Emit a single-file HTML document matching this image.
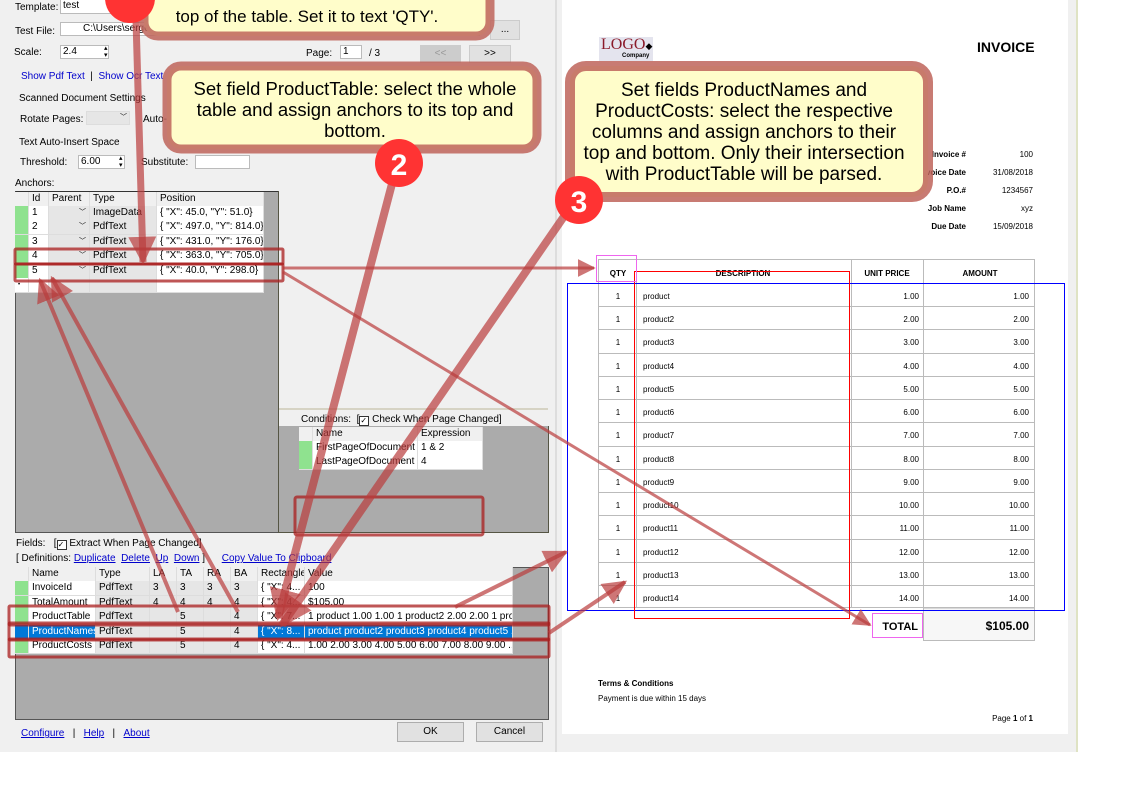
<!DOCTYPE html>
<html><head><meta charset="utf-8">
<style>
*{margin:0;padding:0;box-sizing:border-box}
body{width:1123px;height:794px;background:#fff;position:relative;overflow:hidden;font-family:"Liberation Sans",sans-serif;font-size:10px;color:#000}
.a{position:absolute;white-space:nowrap}
.lnk{color:#00c;}
.u{text-decoration:underline}
.in{position:absolute;background:#fff;border:1px solid #bbb}
.g{position:absolute;background:#ababab}
.c{position:absolute;height:15px;line-height:14px;border-right:1px solid #ddd;border-bottom:1px solid #ddd;padding-left:3px;overflow:hidden;white-space:nowrap;font-size:10px}
.w{background:#fff}.gr{background:#e6e6e6}.gn{background:#8fe28f}.h{background:#f0f0f0}.sel{background:#0078d7;color:#fff}
.inv{font-size:8px;position:absolute;white-space:nowrap}
</style></head><body>
<div class="a" style="left:0;top:0;width:1078px;height:752px;background:#f0f0f0"></div>
<div class="a" style="left:555px;top:0;width:2px;height:752px;background:#ddd"></div>
<div class="a" style="left:1076px;top:0;width:2px;height:752px;background:#dfe3c4"></div>
<div class="a" style="left:562px;top:0;width:506px;height:734px;background:#fff"></div>

<div class="a" style="left:15px;top:2px">Template:</div>
<div class="in" style="left:60px;top:0;width:100px;height:14px;border-top:none"><span style="padding-left:2px">test</span></div>
<div class="a" style="left:15px;top:26px">Test File:</div>
<div class="in" style="left:60px;top:22px;width:420px;height:14px;padding-left:22px;line-height:12px">C:\Users\serge\</div>
<div class="a" style="left:470px;top:24px">.df</div>
<div class="a" style="left:490px;top:20px;width:30px;height:20px;border:1px solid #ccc;background:#e1e1e1;text-align:center;line-height:18px">...</div>
<div class="a" style="left:14px;top:47px">Scale:</div>
<div class="in" style="left:60px;top:45px;width:49px;height:14px;line-height:12px;padding-left:2px">2.4</div>
<div class="a" style="left:104px;top:45px;font-size:7px;line-height:7px">▴<br>▾</div>
<div class="a" style="left:306px;top:48px">Page:</div>
<div class="in" style="left:340px;top:45px;width:22px;height:14px;line-height:12px;padding-left:2px">1</div>
<div class="a" style="left:369px;top:48px">/ 3</div>
<div class="a" style="left:420px;top:45px;width:41px;height:18px;background:#ccc;border:1px solid #ccc;color:#999;text-align:center;line-height:16px">&lt;&lt;</div>
<div class="a" style="left:469px;top:45px;width:42px;height:18px;background:#e1e1e1;border:1px solid #ccc;text-align:center;line-height:16px">&gt;&gt;</div>
<div class="a lnk" style="left:21px;top:71px">Show Pdf Text &nbsp;<span style="color:#000">|</span>&nbsp; Show Ocr Text</div>
<div class="a" style="left:19px;top:93px">Scanned Document Settings</div>
<div class="a" style="left:20px;top:114px">Rotate Pages:</div>
<div class="a" style="left:86px;top:111px;width:44px;height:14px;background:#e6e6e6;border:1px solid #ddd;font-size:7px;text-align:right;padding-right:2px">﹀</div>
<div class="a" style="left:143px;top:114px">Auto-I</div>
<div class="a" style="left:19px;top:137px">Text Auto-Insert Space</div>
<div class="a" style="left:20px;top:157px">Threshold:</div>
<div class="in" style="left:78px;top:155px;width:47px;height:14px;line-height:12px;padding-left:2px">6.00</div>
<div class="a" style="left:119px;top:155px;font-size:7px;line-height:7px">▴<br>▾</div>
<div class="a" style="left:141px;top:157px">Substitute:</div>
<div class="in" style="left:195px;top:155px;width:55px;height:14px"></div>
<div class="a" style="left:15px;top:178px">Anchors:</div>

<div class="g" style="left:15px;top:191px;width:264px;height:342px;border:1px solid #555;border-top:1px solid #333"></div>
<div class="a" style="left:278px;top:191px;width:1px;height:342px;background:#554"></div>
<div class="c h" style="left:15px;top:192px;width:14px"></div>
<div class="c h" style="left:29px;top:192px;width:20px">Id</div>
<div class="c h" style="left:49px;top:192px;width:41px">Parent</div>
<div class="c h" style="left:90px;top:192px;width:67px">Type</div>
<div class="c h" style="left:157px;top:192px;width:107px">Position</div>
<div class="c gn" style="left:15px;top:206px;width:14px"></div><div class="c w" style="left:29px;top:206px;width:20px">1</div><div class="c gr" style="left:49px;top:206px;width:41px;text-align:right;padding-right:3px;font-size:7px">﹀</div><div class="c gr" style="left:90px;top:206px;width:67px">ImageData</div><div class="c w" style="left:157px;top:206px;width:107px">{ "X": 45.0,  "Y": 51.0}</div>
<div class="c gn" style="left:15px;top:220px;width:14px"></div><div class="c w" style="left:29px;top:220px;width:20px">2</div><div class="c gr" style="left:49px;top:220px;width:41px;text-align:right;padding-right:3px;font-size:7px">﹀</div><div class="c gr" style="left:90px;top:220px;width:67px">PdfText</div><div class="c w" style="left:157px;top:220px;width:107px">{ "X": 497.0,  "Y": 814.0}</div>
<div class="c gn" style="left:15px;top:235px;width:14px"></div><div class="c w" style="left:29px;top:235px;width:20px">3</div><div class="c gr" style="left:49px;top:235px;width:41px;text-align:right;padding-right:3px;font-size:7px">﹀</div><div class="c gr" style="left:90px;top:235px;width:67px">PdfText</div><div class="c w" style="left:157px;top:235px;width:107px">{ "X": 431.0,  "Y": 176.0}</div>
<div class="c gn" style="left:15px;top:249px;width:14px"></div><div class="c w" style="left:29px;top:249px;width:20px">4</div><div class="c gr" style="left:49px;top:249px;width:41px;text-align:right;padding-right:3px;font-size:7px">﹀</div><div class="c gr" style="left:90px;top:249px;width:67px">PdfText</div><div class="c w" style="left:157px;top:249px;width:107px">{ "X": 363.0,  "Y": 705.0}</div>
<div class="c gn" style="left:15px;top:264px;width:14px"></div><div class="c w" style="left:29px;top:264px;width:20px">5</div><div class="c gr" style="left:49px;top:264px;width:41px;text-align:right;padding-right:3px;font-size:7px">﹀</div><div class="c gr" style="left:90px;top:264px;width:67px">PdfText</div><div class="c w" style="left:157px;top:264px;width:107px">{ "X": 40.0,  "Y": 298.0}</div>
<div class="c w" style="left:15px;top:278px;width:14px;font-size:6px">•</div><div class="c w" style="left:29px;top:278px;width:20px"></div><div class="c gr" style="left:49px;top:278px;width:41px"></div><div class="c gr" style="left:90px;top:278px;width:67px"></div><div class="c w" style="left:157px;top:278px;width:107px"></div>

<div class="a" style="left:279px;top:408px;width:269px;height:2px;background:#d6d3c4"></div>
<div class="a" style="left:301px;top:414px">Conditions: &nbsp;[<span style="display:inline-block;width:10px;height:10px;border:1px solid #333;background:#fff;font-size:8px;line-height:8px;vertical-align:-1px">✓</span> Check When Page Changed]</div>
<div class="g" style="left:279px;top:426px;width:270px;height:107px;border-right:1px solid #554;border-bottom:1px solid #554"></div>
<div class="c h" style="left:299px;top:427px;width:14px"></div><div class="c h" style="left:313px;top:427px;width:105px">Name</div><div class="c h" style="left:418px;top:427px;width:65px">Expression</div>
<div class="c gn" style="left:299px;top:441px;width:14px"></div><div class="c w" style="left:313px;top:441px;width:105px">FirstPageOfDocument</div><div class="c w" style="left:418px;top:441px;width:65px">1 &amp; 2</div>
<div class="c gn" style="left:299px;top:455px;width:14px"></div><div class="c w" style="left:313px;top:455px;width:105px">LastPageOfDocument</div><div class="c w" style="left:418px;top:455px;width:65px">4</div>

<div class="a" style="left:16px;top:538px">Fields: &nbsp;&nbsp;[<span style="display:inline-block;width:10px;height:10px;border:1px solid #333;background:#fff;font-size:8px;line-height:8px;vertical-align:-1px">✓</span> Extract When Page Changed]</div>
<div class="a" style="left:16px;top:553px">[ Definitions: <span class="lnk u">Duplicate</span>&nbsp; <span class="lnk u">Delete</span>&nbsp; <span class="lnk u">Up</span>&nbsp; <span class="lnk u">Down</span> ] &nbsp;&nbsp;&nbsp;&nbsp; <span class="lnk u">Copy Value To Clipboard</span></div>
<div class="g" style="left:15px;top:567px;width:534px;height:153px;border:1px solid #555"></div>
<div class="c h" style="left:15px;top:567px;width:14px"></div><div class="c h" style="left:29px;top:567px;width:67px">Name</div><div class="c h" style="left:96px;top:567px;width:54px">Type</div><div class="c h" style="left:150px;top:567px;width:27px">LA</div><div class="c h" style="left:177px;top:567px;width:27px">TA</div><div class="c h" style="left:204px;top:567px;width:27px">RA</div><div class="c h" style="left:231px;top:567px;width:27px">BA</div><div class="c h" style="left:258px;top:567px;width:47px">Rectangle</div><div class="c h" style="left:305px;top:567px;width:208px">Value</div>

<div class="c gn" style="left:15px;top:581px;width:14px"></div><div class="c w" style="left:29px;top:581px;width:67px">InvoiceId</div><div class="c gr" style="left:96px;top:581px;width:54px">PdfText</div><div class="c gr" style="left:150px;top:581px;width:27px">3</div><div class="c gr" style="left:177px;top:581px;width:27px">3</div><div class="c gr" style="left:204px;top:581px;width:27px">3</div><div class="c gr" style="left:231px;top:581px;width:27px">3</div><div class="c w" style="left:258px;top:581px;width:47px">{ "X": 4...</div><div class="c w" style="left:305px;top:581px;width:208px">100</div>
<div class="c gn" style="left:15px;top:596px;width:14px"></div><div class="c w" style="left:29px;top:596px;width:67px">TotalAmount</div><div class="c gr" style="left:96px;top:596px;width:54px">PdfText</div><div class="c gr" style="left:150px;top:596px;width:27px">4</div><div class="c gr" style="left:177px;top:596px;width:27px">4</div><div class="c gr" style="left:204px;top:596px;width:27px">4</div><div class="c gr" style="left:231px;top:596px;width:27px">4</div><div class="c w" style="left:258px;top:596px;width:47px">{ "X": 4...</div><div class="c w" style="left:305px;top:596px;width:208px">$105.00</div>
<div class="c gn" style="left:15px;top:610px;width:14px"></div><div class="c w" style="left:29px;top:610px;width:67px">ProductTable</div><div class="c gr" style="left:96px;top:610px;width:54px">PdfText</div><div class="c gr" style="left:150px;top:610px;width:27px"></div><div class="c gr" style="left:177px;top:610px;width:27px">5</div><div class="c gr" style="left:204px;top:610px;width:27px"></div><div class="c gr" style="left:231px;top:610px;width:27px">4</div><div class="c w" style="left:258px;top:610px;width:47px">{ "X": 7...</div><div class="c w" style="left:305px;top:610px;width:208px">1 product 1.00 1.00 1 product2 2.00 2.00 1 pro...</div>
<div class="c sel" style="left:15px;top:625px;width:14px"></div><div class="c sel" style="left:29px;top:625px;width:67px">ProductNames</div><div class="c gr" style="left:96px;top:625px;width:54px">PdfText</div><div class="c gr" style="left:150px;top:625px;width:27px"></div><div class="c gr" style="left:177px;top:625px;width:27px">5</div><div class="c gr" style="left:204px;top:625px;width:27px"></div><div class="c gr" style="left:231px;top:625px;width:27px">4</div><div class="c sel" style="left:258px;top:625px;width:47px">{ "X": 8...</div><div class="c sel" style="left:305px;top:625px;width:208px">product product2 product3 product4 product5 ...</div>
<div class="c gn" style="left:15px;top:639px;width:14px"></div><div class="c w" style="left:29px;top:639px;width:67px">ProductCosts</div><div class="c gr" style="left:96px;top:639px;width:54px">PdfText</div><div class="c gr" style="left:150px;top:639px;width:27px"></div><div class="c gr" style="left:177px;top:639px;width:27px">5</div><div class="c gr" style="left:204px;top:639px;width:27px"></div><div class="c gr" style="left:231px;top:639px;width:27px">4</div><div class="c w" style="left:258px;top:639px;width:47px">{ "X": 4...</div><div class="c w" style="left:305px;top:639px;width:208px">1.00 2.00 3.00 4.00 5.00 6.00 7.00 8.00 9.00 ...</div>

<div class="a" style="left:21px;top:728px"><span class="lnk u">Configure</span> &nbsp;&nbsp;| &nbsp;&nbsp;<span class="lnk u">Help</span> &nbsp;&nbsp;| &nbsp;&nbsp;<span class="lnk u">About</span></div>
<div class="a" style="left:397px;top:722px;width:67px;height:20px;background:#e1e1e1;border:1px solid #adadad;text-align:center;line-height:18px">OK</div>
<div class="a" style="left:476px;top:722px;width:67px;height:20px;background:#e1e1e1;border:1px solid #adadad;text-align:center;line-height:18px">Cancel</div>

<div class="a" style="left:599px;top:37px;width:54px;height:24px;background:#e4e4ee"></div>
<div class="a" style="left:601px;top:36px;font-family:'Liberation Serif',serif;font-size:16px;color:#8a1a2a">LOGO<span style="font-size:9px;color:#000">◆</span></div>
<div class="a" style="left:622px;top:53px;font-size:6px;font-weight:bold">Company</div>
<div class="a" style="left:977px;top:39px;font-size:14px;font-weight:bold;font-family:'Liberation Sans',sans-serif">INVOICE</div>
<div class="inv" style="left:900px;top:150px;width:66px;text-align:right;font-weight:bold">Invoice #</div><div class="inv" style="left:980px;top:150px;width:53px;text-align:right">100</div>
<div class="inv" style="left:900px;top:168px;width:66px;text-align:right;font-weight:bold">Invoice Date</div><div class="inv" style="left:980px;top:168px;width:53px;text-align:right">31/08/2018</div>
<div class="inv" style="left:900px;top:186px;width:66px;text-align:right;font-weight:bold">P.O.#</div><div class="inv" style="left:980px;top:186px;width:53px;text-align:right">1234567</div>
<div class="inv" style="left:900px;top:204px;width:66px;text-align:right;font-weight:bold">Job Name</div><div class="inv" style="left:980px;top:204px;width:53px;text-align:right">xyz</div>
<div class="inv" style="left:900px;top:222px;width:66px;text-align:right;font-weight:bold">Due Date</div><div class="inv" style="left:980px;top:222px;width:53px;text-align:right">15/09/2018</div>

<svg class="a" style="left:0;top:0" width="1123" height="794">
<g stroke="#bbb" stroke-width="1" fill="none">
<rect x="598.5" y="259.5" width="436" height="348" />
<line x1="636.5" y1="259" x2="636.5" y2="608"/>
<line x1="851.5" y1="259" x2="851.5" y2="608"/>
<line x1="923.5" y1="259" x2="923.5" y2="641"/>
<line x1="598" y1="283.5" x2="1035" y2="283.5"/>
<line x1="598" y1="306.5" x2="1035" y2="306.5"/><line x1="598" y1="329.5" x2="1035" y2="329.5"/><line x1="598" y1="353.5" x2="1035" y2="353.5"/><line x1="598" y1="376.5" x2="1035" y2="376.5"/><line x1="598" y1="399.5" x2="1035" y2="399.5"/><line x1="598" y1="422.5" x2="1035" y2="422.5"/><line x1="598" y1="446.5" x2="1035" y2="446.5"/><line x1="598" y1="469.5" x2="1035" y2="469.5"/><line x1="598" y1="492.5" x2="1035" y2="492.5"/><line x1="598" y1="515.5" x2="1035" y2="515.5"/><line x1="598" y1="539.5" x2="1035" y2="539.5"/><line x1="598" y1="562.5" x2="1035" y2="562.5"/><line x1="598" y1="585.5" x2="1035" y2="585.5"/>
</g>
<rect x="923.5" y="608" width="111" height="32.5" fill="#f7f7f7" stroke="#bbb"/>
<g font-family="Liberation Sans, sans-serif" font-size="8" font-weight="bold" text-anchor="middle">
<text x="618" y="276">QTY</text><text x="743" y="276">DESCRIPTION</text><text x="887" y="276">UNIT PRICE</text><text x="980" y="276">AMOUNT</text>
</g>
<g font-family="Liberation Sans, sans-serif" font-size="8">
<g text-anchor="middle"><text x="618" y="299">1</text><text x="618" y="322">1</text><text x="618" y="345">1</text><text x="618" y="369">1</text><text x="618" y="392">1</text><text x="618" y="415">1</text><text x="618" y="438">1</text><text x="618" y="462">1</text><text x="618" y="485">1</text><text x="618" y="508">1</text><text x="618" y="531">1</text><text x="618" y="555">1</text><text x="618" y="578">1</text><text x="618" y="601">1</text></g>
<text x="643" y="299">product</text><text x="643" y="322">product2</text><text x="643" y="345">product3</text><text x="643" y="369">product4</text><text x="643" y="392">product5</text><text x="643" y="415">product6</text><text x="643" y="438">product7</text><text x="643" y="462">product8</text><text x="643" y="485">product9</text><text x="643" y="508">product10</text><text x="643" y="531">product11</text><text x="643" y="555">product12</text><text x="643" y="578">product13</text><text x="643" y="601">product14</text>
<g text-anchor="end"><text x="919" y="299">1.00</text><text x="919" y="322">2.00</text><text x="919" y="345">3.00</text><text x="919" y="369">4.00</text><text x="919" y="392">5.00</text><text x="919" y="415">6.00</text><text x="919" y="438">7.00</text><text x="919" y="462">8.00</text><text x="919" y="485">9.00</text><text x="919" y="508">10.00</text><text x="919" y="531">11.00</text><text x="919" y="555">12.00</text><text x="919" y="578">13.00</text><text x="919" y="601">14.00</text>
<text x="1029" y="299">1.00</text><text x="1029" y="322">2.00</text><text x="1029" y="345">3.00</text><text x="1029" y="369">4.00</text><text x="1029" y="392">5.00</text><text x="1029" y="415">6.00</text><text x="1029" y="438">7.00</text><text x="1029" y="462">8.00</text><text x="1029" y="485">9.00</text><text x="1029" y="508">10.00</text><text x="1029" y="531">11.00</text><text x="1029" y="555">12.00</text><text x="1029" y="578">13.00</text><text x="1029" y="601">14.00</text></g>
<text x="598" y="686" font-weight="bold">Terms &amp; Conditions</text>
<text x="598" y="701">Payment is due within 15 days</text>
<text x="1033" y="721" text-anchor="end">Page <tspan font-weight="bold">1</tspan> of <tspan font-weight="bold">1</tspan></text>
</g>
<text x="918" y="630" font-family="Liberation Sans, sans-serif" font-size="11" font-weight="bold" text-anchor="end">TOTAL</text>
<text x="1029" y="630" font-family="Liberation Sans, sans-serif" font-size="12" font-weight="bold" text-anchor="end">$105.00</text>
<rect x="567.5" y="283.5" width="497" height="327" fill="none" stroke="#00f" stroke-width="1"/>
<rect x="634.5" y="271.5" width="215" height="347" fill="none" stroke="#f00" stroke-width="1"/>
<rect x="596.5" y="255.5" width="40" height="26" fill="none" stroke="#e6e" stroke-width="1"/>
<rect x="872.5" y="613.5" width="50" height="24" fill="none" stroke="#e6e" stroke-width="1"/>

<g fill="none" stroke="rgba(170,30,30,0.75)" stroke-width="3">
<rect x="15" y="249" width="268" height="15" rx="1"/>
<rect x="15" y="264" width="268" height="17" rx="1"/>
<rect x="295" y="497" width="188" height="38" rx="2"/>
<rect x="9" y="606" width="540" height="19" rx="1"/>
<rect x="9" y="623" width="540" height="17" rx="1"/>
<rect x="9" y="639" width="540" height="18" rx="1"/>
</g>

<defs><marker id="m" viewBox="0 0 10 10" refX="9" refY="5" markerWidth="4" markerHeight="4" orient="auto" markerUnits="strokeWidth"><path d="M0,0L10,5L0,10z" fill="rgba(185,60,60,0.7)"/></marker>
<marker id="ms" viewBox="0 0 10 10" refX="9" refY="5" markerWidth="6" markerHeight="6" orient="auto" markerUnits="strokeWidth"><path d="M0,0L10,5L0,10z" fill="rgba(185,60,60,0.7)"/></marker></defs>
<g stroke="rgba(185,60,60,0.7)" fill="none" stroke-linecap="butt">
<line x1="136" y1="20" x2="143" y2="262" stroke-width="7" marker-end="url(#m)"/>
<line x1="283" y1="268" x2="594" y2="268" stroke-width="3" marker-end="url(#ms)"/>
<line x1="283" y1="272" x2="870" y2="625" stroke-width="3" marker-end="url(#ms)"/>
<line x1="393" y1="180" x2="278" y2="618" stroke-width="8" marker-end="url(#m)"/>
<line x1="565" y1="215" x2="282" y2="625" stroke-width="8" marker-end="url(#m)"/>
<line x1="178" y1="612" x2="40" y2="280" stroke-width="4" marker-end="url(#ms)"/>
<line x1="238" y1="612" x2="52" y2="278" stroke-width="4" marker-end="url(#ms)"/>
<line x1="455" y1="607" x2="566" y2="552" stroke-width="4" marker-end="url(#ms)"/>
<line x1="549" y1="633" x2="625" y2="582" stroke-width="4" marker-end="url(#ms)"/>
</g>

<g>
<rect x="144" y="-30" width="346" height="66" rx="14" fill="#fffdca" stroke="rgba(190,100,90,0.85)" stroke-width="9"/>
<circle cx="130" cy="-2" r="25" fill="#f33"/>
<text x="307" y="22" font-family="Liberation Sans, sans-serif" font-size="17" text-anchor="middle">top of the table. Set it to text 'QTY'.</text>

<rect x="167" y="66" width="370" height="83" rx="14" fill="#fffdca" stroke="rgba(190,100,90,0.85)" stroke-width="9"/>
<g font-family="Liberation Sans, sans-serif" font-size="18.5" text-anchor="middle"><text x="355" y="95">Set field ProductTable: select the whole</text><text x="355" y="116">table and assign anchors to its top and</text><text x="355" y="137">bottom.</text></g>
<circle cx="399" cy="163" r="24" fill="#f33"/>
<text x="399" y="175" font-family="Liberation Sans, sans-serif" font-size="30" font-weight="bold" fill="#fff" text-anchor="middle">2</text>

<rect x="570" y="66" width="358" height="131" rx="16" fill="#fffdca" stroke="rgba(190,100,90,0.85)" stroke-width="10"/>
<g font-family="Liberation Sans, sans-serif" font-size="19" text-anchor="middle"><text x="744" y="96">Set fields ProductNames and</text><text x="744" y="117">ProductCosts: select the respective</text><text x="744" y="138">columns and assign anchors to their</text><text x="744" y="159">top and bottom. Only their intersection</text><text x="744" y="180">with ProductTable will be parsed.</text></g>
<circle cx="579" cy="200" r="24" fill="#f33"/>
<text x="579" y="212" font-family="Liberation Sans, sans-serif" font-size="30" font-weight="bold" fill="#fff" text-anchor="middle">3</text>
</g>
</svg>
</body></html>
